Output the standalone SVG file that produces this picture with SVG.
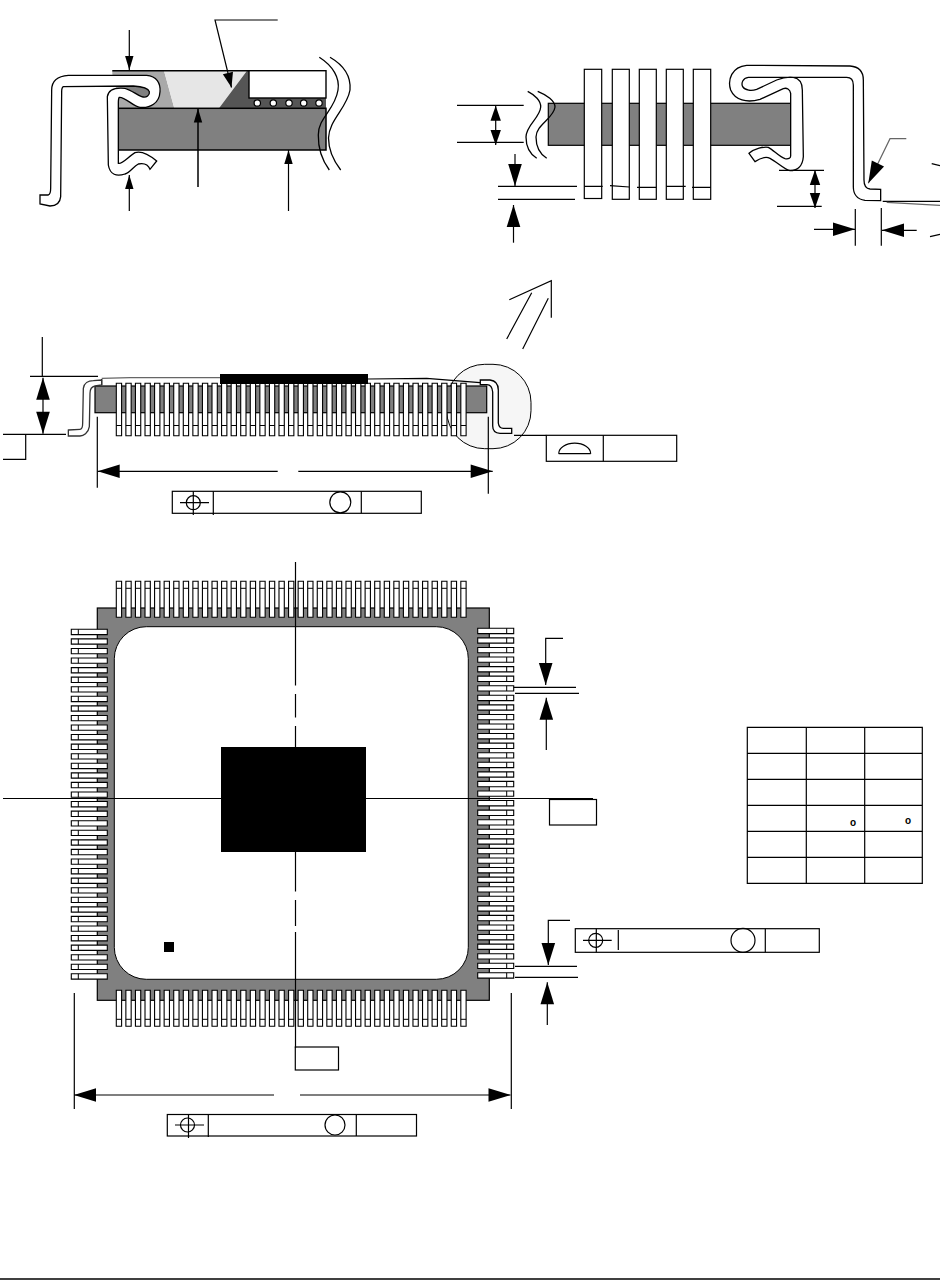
<svg xmlns="http://www.w3.org/2000/svg" xmlns:xlink="http://www.w3.org/1999/xlink" width="940" height="1281" viewBox="0 0 940 1281">
<style>
.ln{fill:none;stroke:#000;stroke-width:1.2}
.gl{fill:none;stroke:#666;stroke-width:1.2}
.w{fill:#fff;stroke:#000;stroke-width:1.2}
.wt{fill:#fff;stroke:#000;stroke-width:1.4}
.rib{fill:#fff;stroke:#000;stroke-width:1.3;vector-effect:non-scaling-stroke}
.g{fill:#808080;stroke:#000;stroke-width:1.2}
.k{fill:#000;stroke:none}
.lead{fill:#fff;stroke:#000;stroke-width:1.1;vector-effect:non-scaling-stroke}
.bar{fill:none;stroke:#000;stroke-width:1;vector-effect:non-scaling-stroke}
.al{marker-end:url(#aL)}
.am{marker-end:url(#aM)}
.as{marker-end:url(#aS)}
.deg{font-family:"Liberation Sans",Arial,sans-serif;font-size:10px;font-weight:bold;text-anchor:middle;fill:#000}
</style>
<defs>
<marker id="aL" markerUnits="userSpaceOnUse" markerWidth="22" markerHeight="14" refX="22" refY="6.8" orient="auto" overflow="visible"><path d="M0 0L22 6.8L0 13.6z" fill="#000"/></marker>
<marker id="aM" markerUnits="userSpaceOnUse" markerWidth="15" markerHeight="10" refX="15" refY="5.2" orient="auto" overflow="visible"><path d="M0 0L15 5.2L0 10.400z" fill="#000"/></marker>
<marker id="aS" markerUnits="userSpaceOnUse" markerWidth="14" markerHeight="8" refX="14" refY="4.2" orient="auto" overflow="visible"><path d="M0 0L14 4.200L0 8.400z" fill="#000"/></marker>
<g id="lead"><rect class="lead" width="5.3" height="36"/><line class="bar" x1="0" y1="7" x2="5.3" y2="7"/></g>
<g id="row">
<use xlink:href="#lead" x="0"/><use xlink:href="#lead" x="9.57"/><use xlink:href="#lead" x="19.14"/><use xlink:href="#lead" x="28.71"/><use xlink:href="#lead" x="38.28"/><use xlink:href="#lead" x="47.85"/><use xlink:href="#lead" x="57.42"/><use xlink:href="#lead" x="66.99"/><use xlink:href="#lead" x="76.56"/><use xlink:href="#lead" x="86.13"/><use xlink:href="#lead" x="95.7"/><use xlink:href="#lead" x="105.27"/><use xlink:href="#lead" x="114.84"/><use xlink:href="#lead" x="124.41"/><use xlink:href="#lead" x="133.98"/><use xlink:href="#lead" x="143.55"/><use xlink:href="#lead" x="153.12"/><use xlink:href="#lead" x="162.69"/><use xlink:href="#lead" x="172.26"/><use xlink:href="#lead" x="181.83"/><use xlink:href="#lead" x="191.4"/><use xlink:href="#lead" x="200.97"/><use xlink:href="#lead" x="210.54"/><use xlink:href="#lead" x="220.11"/><use xlink:href="#lead" x="229.68"/><use xlink:href="#lead" x="239.25"/><use xlink:href="#lead" x="248.82"/><use xlink:href="#lead" x="258.39"/><use xlink:href="#lead" x="267.96"/><use xlink:href="#lead" x="277.53"/><use xlink:href="#lead" x="287.1"/><use xlink:href="#lead" x="296.67"/><use xlink:href="#lead" x="306.24"/><use xlink:href="#lead" x="315.81"/><use xlink:href="#lead" x="325.38"/><use xlink:href="#lead" x="334.95"/><use xlink:href="#lead" x="344.52"/>
</g>
</defs>
<rect width="940" height="1281" fill="#fff"/>

<g id="cutaway-detail">
<path d="M112.300 70.700H164L174.300 108.300H118.300V96.700L112.300 74z" fill="#a9a9a9"/>
<path d="M164 70.700H247L219 108.300H174.300z" fill="#e6e6e6"/>
<path d="M247 70.700L219 108.300H326V98H249V70.700z" fill="#555"/>
<path class="ln" style="stroke-width:1.400" d="M112.300 70.700H326"/>
<rect class="g" x="118.300" y="108.300" width="207.700" height="41.700" style="stroke-width:1.500"/>
<rect class="wt" x="249" y="70.700" width="77" height="27.300"/>
<circle class="w" cx="257.300" cy="103" r="3.200"/><circle class="w" cx="273.300" cy="103" r="3.200"/><circle class="w" cx="289" cy="103" r="3.200"/><circle class="w" cx="303.700" cy="103" r="3.200"/><circle class="w" cx="319" cy="103" r="3.200"/>
<g transform="scale(.33333)">
<path d="M375 262L400 258C430 260 445 265 448 275C450 285 440 295 425 290z" fill="#808080"/>
<path class="rib" d="M120 585L145 585C152 583 152 575 152 565L155 270C155 240 175 228 205 226L440 226C470 228 482 250 480 275C478 310 450 325 420 322C400 320 375 290 358 292C355 295 355 305 355 310L355 490C365 495 385 470 405 458C420 453 440 458 470 483L450 508C445 495 435 488 415 492C400 500 390 518 375 522C350 530 330 525 325 495L322 290C325 268 345 262 375 265C395 270 410 285 425 290C440 295 450 285 448 275C445 265 430 260 400 258L190 260C186 262 185 270 185 275L182 590C180 612 165 618 150 618L120 612z"/>
</g>
<path class="ln" style="stroke-width:1.300" d="M319.300 57.300C333 66 340 78 338 90C335 110 318 118 318.300 135C318 150 322 160 329.300 170"/>
<path class="ln" style="stroke-width:1.300" d="M330 57.300C345 66 351 78 350 90C347 108 329 120 328.500 138C328.500 150 333 160 340.700 170"/>
</g>

<g id="lead-detail">
<rect class="g" x="548.300" y="103.300" width="242.400" height="42"/>
<g id="detail-leads">
<rect class="w" x="584.300" y="69.300" width="17.400" height="129.200"/><rect class="w" x="612.300" y="69.300" width="17" height="130"/><rect class="w" x="639.300" y="69.300" width="17" height="130"/><rect class="w" x="666.300" y="69.300" width="17" height="130"/><rect class="w" x="693.300" y="69.300" width="17.400" height="130"/>
<path class="ln" d="M584.300 186.300H602.700M610 185.700L629.300 187M637 187.300H656.300M666.300 186.300H685.700M692 187.300H710.700"/>
</g>
<g transform="translate(440,50) scale(.33333)">
<path class="rib" d="M920 46L1230 48C1258 50 1270 65 1270 90L1272 390C1272 405 1278 416 1290 417L1322 418L1322 452L1275 451C1250 448 1240 430 1240 410L1240 105C1240 90 1232 82 1220 82L925 82C908 84 903 100 908 110C915 122 935 123 950 118L1010 90C1030 82 1045 80 1060 82C1078 85 1087 100 1087 120L1090 320C1088 350 1070 362 1050 362C1035 360 1010 335 990 325C980 320 965 322 945 335L927 310C945 295 970 290 985 292C1000 300 1020 322 1035 326C1045 328 1052 325 1052 318L1052 130C1050 118 1040 112 1030 116L960 148C920 160 885 150 872 120C862 90 875 50 920 46z"/>
</g>
<path class="ln" style="stroke-width:1.300" d="M527.700 91.300C535 95 541 101 540.700 107C540 118 526 125 526 137C526 147 530 154 536.700 158.300"/>
<path class="ln" style="stroke-width:1.300" d="M537.700 91.300C547 95 555 101 555 107C554 118 536 125 536 137C536 147 540 154 546.700 158.300"/>
</g>

<g id="side-view">
<rect x="446.700" y="364.300" width="84.300" height="84.400" rx="38" fill="#f6f6f6" stroke="#000"/>
<rect class="g" x="95" y="386" width="391.700" height="26.700"/>
<use xlink:href="#row" transform="matrix(1,0,0,-1.456,116.300,435.700)"/>
<rect class="k" x="220" y="374" width="148" height="10"/>
<path class="gl" d="M101.700 378.300L130 377.700H220"/>
<path class="ln" d="M101.700 385V379M368 379L426.700 378.300L480 382.700"/>
<g transform="translate(0,330) scale(.33333)">
<path class="rib" style="stroke:#333" d="M205 300L240 298C246 298 248 290 248 280L250 175C252 160 265 152 280 152L305 150L305 165L285 168C275 170 270 180 270 190L268 290C265 310 250 318 240 318L205 318z"/>
</g>
<path class="rib" d="M480.300 380H490Q498.300 381 498.300 390V423Q499 428.300 503.300 428.300H511.700V433.300H500Q492.700 433 492.700 426V392Q492 384.700 487 384.700H480.300z"/>
</g>

<g id="package-top">
<rect class="g" x="97.300" y="608" width="392" height="392.300"/>
<use xlink:href="#row" transform="translate(116.300,581.300)"/>
<use xlink:href="#row" transform="matrix(1,0,0,-1,116.300,1026.300)"/>
<use xlink:href="#row" transform="matrix(0,1,1,0,71.300,629.300)"/>
<use xlink:href="#row" transform="matrix(0,1,-1,0,513.700,628.300)"/>
<rect x="114.300" y="626.700" width="354" height="352.600" rx="32" fill="#fff" stroke="#000" stroke-width="1"/>
<rect class="k" x="221" y="747" width="145" height="105"/>
<rect class="k" x="164" y="942" width="10" height="10"/>
</g>

<g id="angle-table">
<path class="ln" d="M747.300 727.300H922.300V883.300H747.300zM806.300 727.300V883.300M864.700 727.300V883.300M747.300 753.300H922.300M747.300 779.300H922.300M747.300 805.300H922.300M747.300 831.300H922.300M747.300 857.300H922.300"/>
<text class="deg" x="853" y="825.500">o</text>
<text class="deg" x="908" y="823.500">o</text>
</g>

<g id="frames">
<g id="frame-side">
<rect class="ln" x="172.300" y="491.300" width="249" height="22"/>
<path class="ln" d="M213.300 491.300V515M361.300 491.300V513.300M180 502.700H209M193.300 491.300V515"/>
<circle class="ln" cx="193.300" cy="502.700" r="7"/><circle class="ln" cx="340.300" cy="502.300" r="10.500"/>
</g>
<g id="frame-flatness">
<rect class="ln" x="546.300" y="435.300" width="130.400" height="26"/>
<path class="ln" d="M603.300 435.300V461.300M558.700 453.700H590.700M558.700 453.700A16 10.500 0 0 1 590.700 453.700"/>
</g>
<g id="frame-datum-a"><rect class="ln" x="549.500" y="799.500" width="47" height="25.500"/></g>
<g id="frame-datum-b"><rect class="ln" x="295.300" y="1047" width="43.200" height="23"/></g>
<g id="frame-lead">
<rect class="ln" x="575.300" y="928.700" width="244" height="23.600"/>
<path class="ln" d="M596.300 928.700V952.300M618.300 930V950M765.300 928.700V952.300M583 940.300H611.700"/>
<circle class="ln" cx="595.700" cy="940.300" r="7"/><circle class="ln" cx="743" cy="940.300" r="12"/>
</g>
<g id="frame-bottom">
<rect class="ln" x="167.300" y="1114.500" width="249.200" height="21.500"/>
<path class="ln" d="M208.300 1114.500V1137M356.300 1114.500V1136M175 1125H204M188.500 1114.500V1138"/>
<circle class="ln" cx="187.500" cy="1125" r="7"/><circle class="ln" cx="335" cy="1125" r="10"/>
</g>
</g>

<g id="connectors">
<line class="ln as" x1="129.300" y1="30" x2="129.300" y2="70"/>
<line class="ln as" x1="129.300" y1="211" x2="129.300" y2="175"/>
<line class="ln as" style="stroke-width:1.500" x1="198" y1="187" x2="198" y2="108.500"/>
<line class="ln as" x1="288.500" y1="211" x2="288.500" y2="150"/>
<path class="ln am" d="M277.700 20H215L231.500 87.500"/>

<path class="ln" d="M457 105.300H523.700M457 142.300H523.700"/>
<line class="ln am" x1="495.700" y1="125" x2="495.700" y2="105.800"/>
<line class="ln am" x1="495.700" y1="125" x2="495.700" y2="145"/>
<path class="ln" d="M498 186.300H577M498 199.300H575"/>
<line class="ln al" x1="515" y1="154" x2="515" y2="186"/>
<line class="ln al" x1="513.500" y1="242.700" x2="513.500" y2="205"/>
<path class="ln" d="M779 170.300H824M777 206.300H821.700"/>
<line class="ln am" x1="815" y1="189" x2="815" y2="170"/>
<line class="ln am" x1="815" y1="189" x2="815" y2="208"/>
<path class="ln" d="M855.300 209V245.700M881.300 208V245.700"/>
<line class="ln al" x1="814" y1="229.300" x2="855" y2="229.300"/>
<line class="ln al" x1="916.700" y1="230.300" x2="882" y2="230.300"/>
<path class="gl al" d="M906.300 138.700H890L868.300 183.300"/>
<path class="ln" d="M882.700 201.300H940M931.700 163.700L940 165.700M930 236.700L940 234.300"/>
<path class="gl" d="M886.700 202.300L940 205.300"/>
<path class="ln" d="M509.300 299.700L551.300 280.700V317.700M531.700 292.700L506.700 339M548.300 298.300L522.700 349"/>

<path class="ln" d="M42.300 337V376.300M30 376.300H98M66 434.300H3M25.700 434.300V459.300H3"/>
<line class="ln al" x1="43" y1="405" x2="43" y2="377.700"/>
<line class="ln al" x1="43" y1="405" x2="43" y2="433.700"/>
<path class="ln" d="M97.300 416.700V487.700M488.300 416.700V493.700"/>
<line class="ln al" x1="277.700" y1="471.300" x2="97.700" y2="471.300"/>
<line class="ln al" x1="298.300" y1="471.300" x2="492.700" y2="471.300"/>
<line class="ln" x1="514" y1="435.300" x2="546.300" y2="435.300"/>

<path class="ln" d="M295.500 562V685.600M295.500 694V717.500M295.500 726V747M295.500 852V891.600M295.500 900V926M295.500 932V1048"/>
<path class="ln" d="M3 798.500H221M366 798.500H593"/>

<path class="ln al" d="M563 638.300H545.700V685"/>
<path class="ln" d="M513.700 687.300H576M515 693.300H579"/>
<line class="ln al" x1="546.300" y1="750" x2="546.300" y2="697.700"/>
<path class="ln al" d="M570 920.300H548.300V965"/>
<path class="ln" d="M515 966.300H577M515 977.300H578"/>
<line class="ln al" x1="547.300" y1="1025" x2="547.300" y2="982.300"/>

<path class="ln" d="M74.300 993V1109M511.300 993V1109"/>
<line class="ln al" x1="274" y1="1095" x2="74" y2="1095"/>
<line class="ln al" x1="300" y1="1095" x2="510.500" y2="1095"/>
</g>
<line id="page-rule" class="ln" x1="0" y1="1279" x2="940" y2="1279" style="stroke-width:1.500"/>
</svg>
